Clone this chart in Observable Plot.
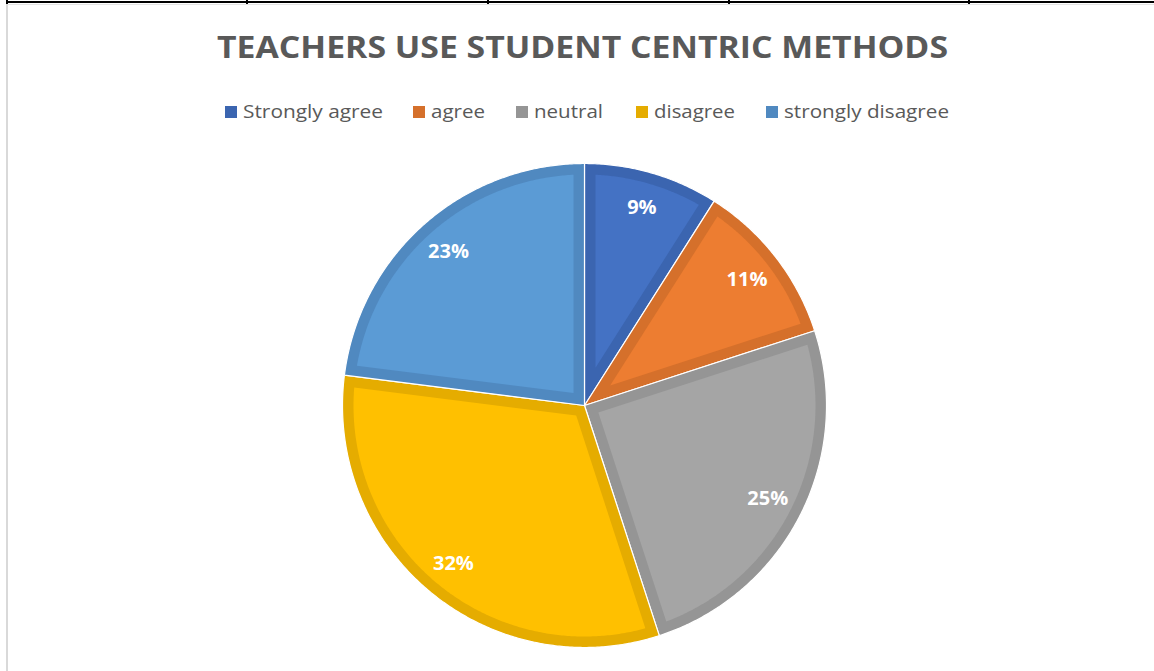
<!DOCTYPE html>
<html>
<head>
<meta charset="utf-8">
<script src="https://cdn.jsdelivr.net/npm/d3@7"></script>
<script src="https://cdn.jsdelivr.net/npm/@observablehq/plot@0.6"></script>
<style>
  html, body { margin: 0; padding: 0; background: #fff; width: 1154px; height: 671px; overflow: hidden; }
  #page { position: relative; width: 1154px; height: 671px; }
  .topline { position: absolute; left: 7px; top: 1px; width: 1147px; height: 2px; background: #000; }
  .tick { position: absolute; top: 0; width: 2px; height: 4px; background: #000; }
  .frame { position: absolute; left: 6px; top: 4px; width: 1200px; height: 700px; border-left: 2px solid #d9d9d9; border-top: 1px solid #e4e4e4; box-sizing: border-box; }
  #title { position: absolute; top: 27px; left: 0; white-space: nowrap; font-family: "Open Sans", sans-serif; font-weight: 700; font-size: 30px; color: #595959; transform-origin: 0 0; line-height: 40px; }
  .lg-sw { position: absolute; width: 12px; height: 12px; top: 106px; }
  .lg-tx { position: absolute; top: 98px; white-space: nowrap; font-family: "Open Sans", sans-serif; font-size: 19px; color: #595959; transform-origin: 0 0; line-height: 26px; }
  #chart { position: absolute; left: 0; top: 140px; }
</style>
</head>
<body>
<div id="page">
  <div class="frame"></div>
  <div class="topline"></div>
  <div class="tick" style="left:6px"></div>
  <div class="tick" style="left:246px"></div>
  <div class="tick" style="left:487px"></div>
  <div class="tick" style="left:728px"></div>
  <div class="tick" style="left:968px"></div>
  <div id="title">TEACHERS USE STUDENT CENTRIC METHODS</div>
  <div id="legend"></div>
  <div id="chart"></div>
</div>
<script>
// ---- data ----
const title = "TEACHERS USE STUDENT CENTRIC METHODS";
const categories = ["Strongly agree", "agree", "neutral", "disagree", "strongly disagree"];
const values = [9, 11, 25, 32, 23];
const labels = ["9%", "11%", "25%", "32%", "23%"];
// ---- styles ----
const fillColors = ["#4472C4", "#ED7D31", "#A5A5A5", "#FFC000", "#5B9BD5"];
const bandColors = ["#3B65B0", "#D5702B", "#959595", "#E5AC00", "#5089C0"];
const legendX = [225, 413, 516, 636, 766];
const legendW = [140, 54, 69, 81, 165];

// ---- title & legend (HTML) ----
const titleEl = document.getElementById("title");
{
  const w = titleEl.getBoundingClientRect().width;
  const target = 731;
  titleEl.style.transform = `scaleX(${target / w})`;
  titleEl.style.left = "217px";
}
const legend = document.getElementById("legend");
categories.forEach((c, i) => {
  const sw = document.createElement("div");
  sw.className = "lg-sw";
  sw.style.left = legendX[i] + "px";
  sw.style.background = bandColors[i];
  legend.appendChild(sw);
  const tx = document.createElement("div");
  tx.className = "lg-tx";
  tx.textContent = c;
  tx.style.left = (legendX[i] + 18) + "px";
  legend.appendChild(tx);
  const w = tx.getBoundingClientRect().width;
  tx.style.transform = `scaleX(${legendW[i] / w})`;
});

// ---- pie geometry (unit radius) ----
const rPx = 242;
const cx = 584, cyInSvg = 265;
const W = 1154, H = 531;
const band = 11 / rPx;

const rows = categories.map((c, i) => ({category: c, value: values[i], label: labels[i], fill: fillColors[i], band: bandColors[i]}));
const arcs = d3.pie().sort(null).value(d => d.value)(rows);

const pt = (a, r) => [r * Math.sin(a), r * Math.cos(a)];
const outer = [], inner = [], labelPts = [];
arcs.forEach((a, i) => {
  const a0 = a.startAngle, a1 = a.endAngle;
  const n = Math.max(8, Math.ceil((a1 - a0) / (Math.PI / 360)));
  const o = [[0, 0]];
  for (let k = 0; k <= n; k++) o.push(pt(a0 + (a1 - a0) * k / n, 1));
  o.push([0, 0]);
  o.forEach(([x, y]) => outer.push({x, y, key: i, color: a.data.band}));
  const half = (a1 - a0) / 2, mid = (a0 + a1) / 2;
  const ri = 1 - band;
  const dlt = Math.asin(band / ri);
  const apex = pt(mid, band / Math.sin(half));
  const q = [apex];
  const b0 = a0 + dlt, b1 = a1 - dlt;
  for (let k = 0; k <= n; k++) q.push(pt(b0 + (b1 - b0) * k / n, ri));
  q.push(apex);
  q.forEach(([x, y]) => inner.push({x, y, key: i, color: a.data.fill}));
  const [lx, ly] = pt(mid, 0.85);
  labelPts.push({x: lx, y: ly, text: a.data.label});
});

const chart = Plot.plot({
  width: W,
  height: H,
  margin: 0,
  x: {domain: [-cx / rPx, (W - cx) / rPx], range: [0, W], axis: null},
  y: {domain: [-(H - cyInSvg) / rPx, cyInSvg / rPx], range: [H, 0], axis: null},
  style: {background: "transparent", overflow: "visible"},
  marks: [
    Plot.line(outer, {x: "x", y: "y", z: "key", fill: "color", stroke: "#ffffff", strokeWidth: 1.2, strokeLinejoin: "round"}),
    Plot.line(inner, {x: "x", y: "y", z: "key", fill: "color", stroke: "none"}),
    Plot.text(labelPts, {x: "x", y: "y", text: "text", fill: "#ffffff", fontSize: 20, fontWeight: "bold", fontFamily: "Open Sans, sans-serif"})
  ]
});
document.getElementById("chart").appendChild(chart);
</script>
</body>
</html>
